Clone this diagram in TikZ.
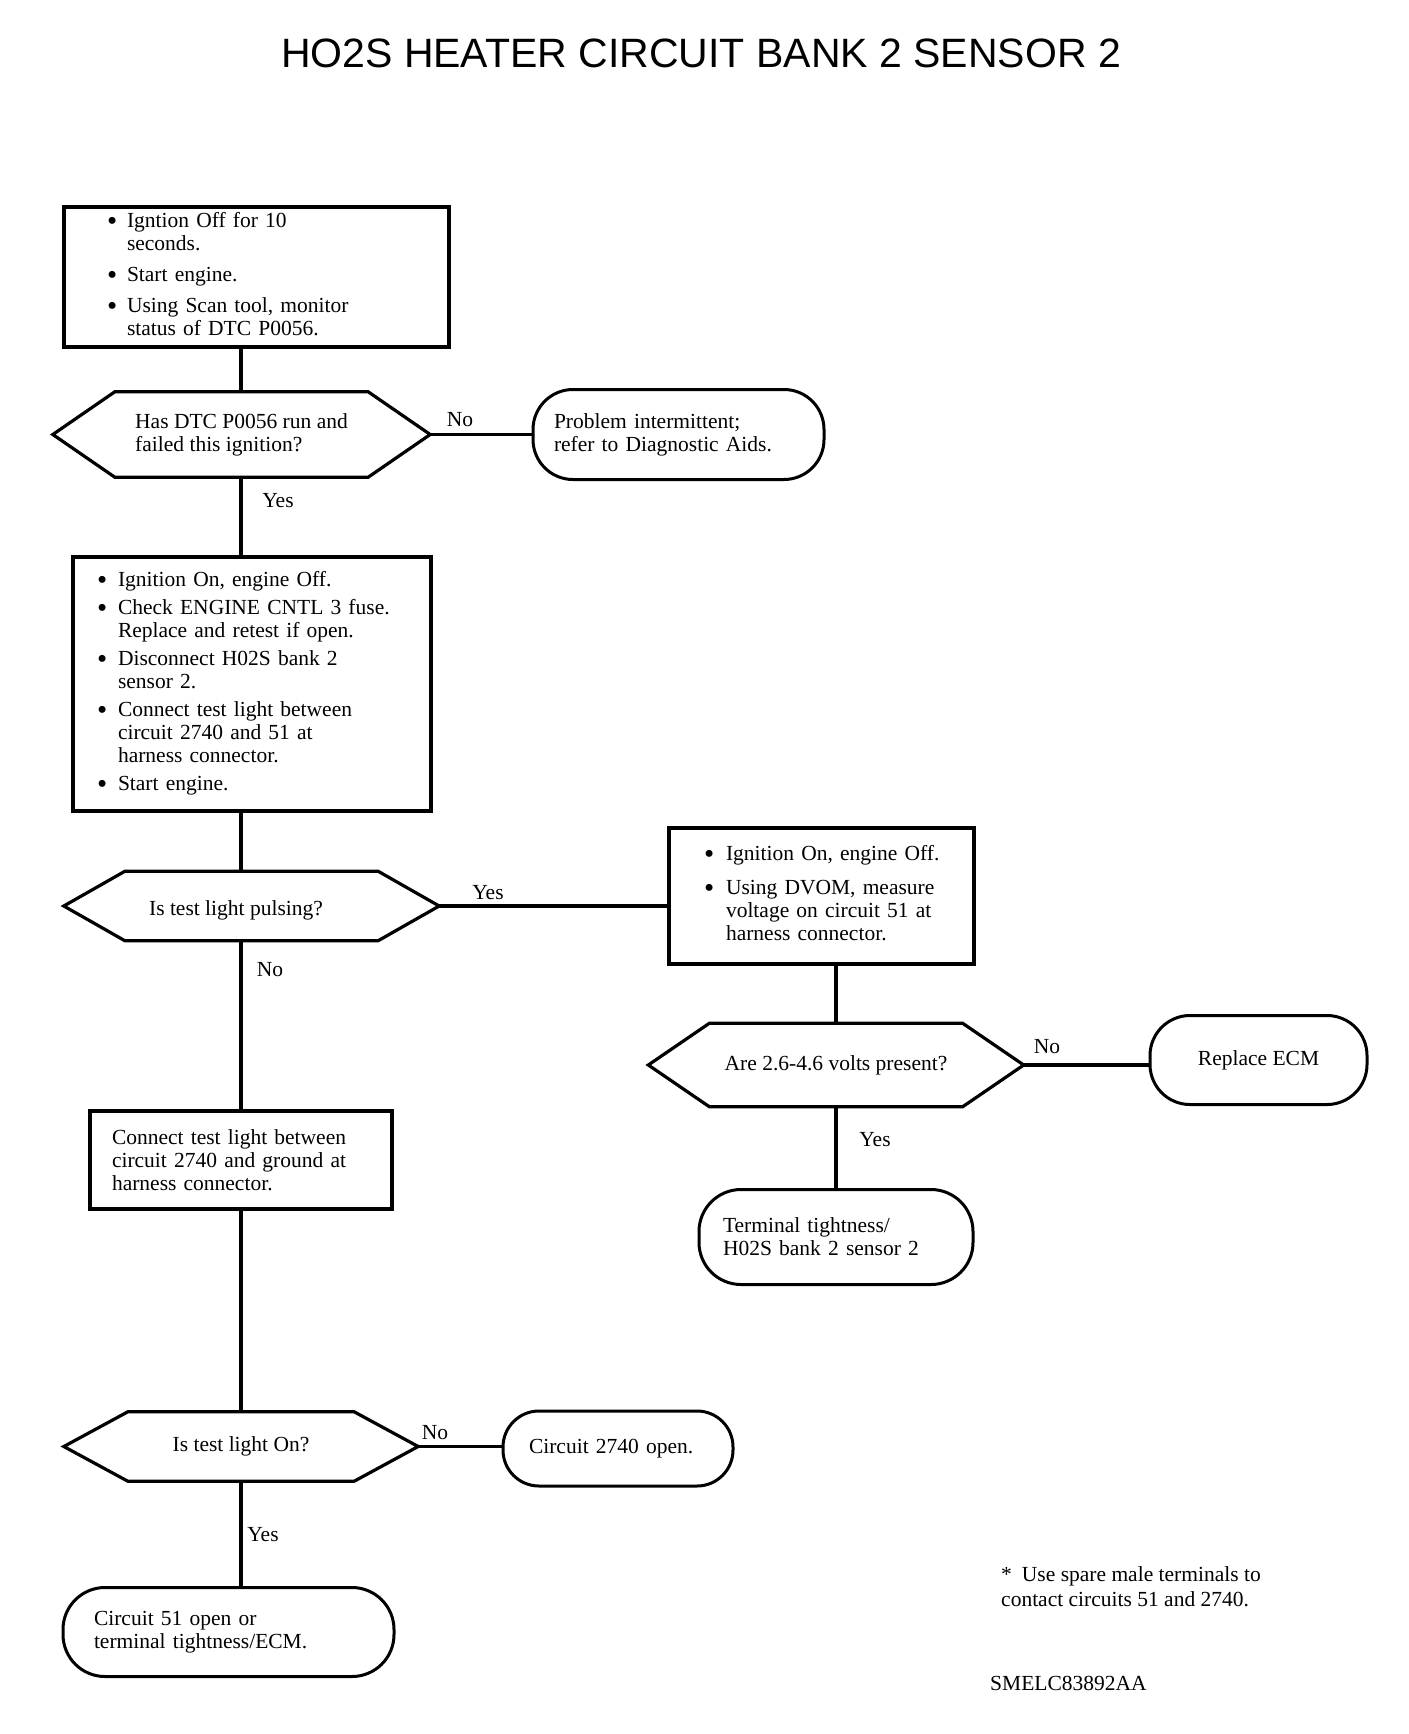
\documentclass[tikz,border=0pt]{standalone}
\usepackage{fontspec}
\setmainfont{Liberation Serif}
\newfontfamily\titlefont{Liberation Sans}
\usetikzlibrary{calc}
\newcommand{\bl}{\raisebox{-2.5pt}{\scalebox{1.35}{\textbullet}}}
\newcommand{\hexout}[2]{\draw[ln] (#1.west) -- ([xshift=#2]#1.north west) -- ([xshift=-#2]#1.north east) -- (#1.east) -- ([xshift=-#2]#1.south east) -- ([xshift=#2]#1.south west) -- cycle;}
\begin{document}
\begin{tikzpicture}[x=1pt,y=-1pt, font=\fontsize{21.5}{23}\selectfont,
  ln/.style={line width=3.2pt, line join=miter},
  box/.style={draw, line width=3.2pt, rectangle, align=left, inner ysep=0pt},
  term/.style={draw, line width=3pt, rectangle, align=left, inner ysep=0pt},
  hexn/.style={rectangle, inner sep=0pt, align=left},
  lab/.style={inner sep=0pt}]
\fill[white] (0,0) rectangle (1408,1734);
\useasboundingbox (0,0) rectangle (1408,1734);
\coordinate (sp) at (241,0);

\node[lab] (title) at (701,53) {\titlefont\fontsize{41}{45}\selectfont HO2S HEATER CIRCUIT BANK 2 SENSOR 2};

% left column
\node[box, minimum width=385pt, minimum height=140pt, text width=299pt, inner xsep=43pt] (b1) at (256.5,277)
 {\begin{tabular}{@{}p{20pt}@{}l@{}}
 \bl & Igntion Off for 10\\
     & seconds.\\[8pt]
 \bl & Start engine.\\[8pt]
 \bl & Using Scan tool, monitor\\
     & status of DTC P0056.
 \end{tabular}};

\node[hexn, minimum width=377pt, minimum height=85pt] (h1) at (241.5,434.5) {Has DTC P0056 run and\\failed this ignition?};
\hexout{h1}{62pt}

\node[term, rounded corners=40pt, minimum width=291pt, minimum height=90pt, text width=249pt, inner xsep=21pt] (t1) at (678.5,434.5) {Problem intermittent;\\refer to Diagnostic Aids.};

\node[box, minimum width=358pt, minimum height=254pt, text width=310pt, inner xsep=24pt] (b2) at (252,684)
 {\begin{tabular}{@{}p{21pt}@{}l@{}}
 \bl & Ignition On, engine Off.\\[5pt]
 \bl & Check ENGINE CNTL 3 fuse.\\
     & Replace and retest if open.\\[5pt]
 \bl & Disconnect H02S bank 2\\
     & sensor 2.\\[5pt]
 \bl & Connect test light between\\
     & circuit 2740 and 51 at\\
     & harness connector.\\[5pt]
 \bl & Start engine.
 \end{tabular}};

\node[hexn, minimum width=375pt, minimum height=69pt] (h2) at (251.5,906) {};
\hexout{h2}{61pt}
\node[lab] (h2t) at (236,910) {Is test light pulsing?};

\node[box, minimum width=305pt, minimum height=136pt, text width=235pt, inner xsep=35pt] (b3) at (821.5,896)
 {\begin{tabular}{@{}p{22pt}@{}l@{}}
 \bl & Ignition On, engine Off.\\[11pt]
 \bl & Using DVOM, measure\\
     & voltage on circuit 51 at\\
     & harness connector.
 \end{tabular}};

\node[box, minimum width=302pt, minimum height=98pt, text width=258pt, inner xsep=22pt] (b4) at (241,1160) {Connect test light between\\circuit 2740 and ground at\\harness connector.};

\node[hexn, minimum width=375pt, minimum height=83pt] (h3) at (836,1065) {Are 2.6-4.6 volts present?};
\hexout{h3}{61pt}

\node[term, rounded corners=40pt, minimum width=217pt, minimum height=89pt] (t5) at (1258.5,1060) {Replace ECM};

\node[term, rounded corners=42pt, minimum width=274pt, minimum height=95pt, text width=226pt, inner xsep=24pt] (t2) at (836,1237) {Terminal tightness/\\H02S bank 2 sensor 2};

\node[hexn, minimum width=354pt, minimum height=69pt] (h4) at (241,1446.5) {Is test light On?};
\hexout{h4}{64pt}

\node[term, rounded corners=36pt, minimum width=230pt, minimum height=75pt, text width=178pt, inner xsep=26pt] (t3) at (618,1448.5) {Circuit 2740 open.};

\node[term, rounded corners=42pt, minimum width=331pt, minimum height=89pt, text width=269pt, inner xsep=31pt] (t4) at (228.5,1632) {Circuit 51 open or\\terminal tightness/ECM.};

% connectors
\draw[ln] (b1.south -| sp) -- (h1.north -| sp);
\draw[ln] (h1.east) -- (h1.east -| t1.west);
\draw[ln] (h1.south -| sp) -- (b2.north -| sp);
\draw[ln] (b2.south -| sp) -- (h2.north -| sp);
\draw[ln] (h2.east) -- (h2.east -| b3.west);
\draw[ln] (h2.south -| sp) -- (b4.north -| sp);
\draw[ln] (h3.north) -- (h3.north |- b3.south);
\draw[ln] (h3.east) -- (h3.east -| t5.west);
\draw[ln] (h3.south) -- (h3.south |- t2.north);
\draw[ln] (b4.south -| sp) -- (h4.north -| sp);
\draw[ln] (h4.east) -- (h4.east -| t3.west);
\draw[ln] (h4.south -| sp) -- (t4.north -| sp);

% labels
\node[lab] (l1) at (460,420) {No};
\node[lab] (l2) at (278,501) {Yes};
\node[lab] (l3) at (488,893) {Yes};
\node[lab] (l4) at (270,970) {No};
\node[lab] (l5) at (1047,1047) {No};
\node[lab] (l6) at (875,1140) {Yes};
\node[lab] (l7) at (435,1433) {No};
\node[lab] (l8) at (263,1535) {Yes};

\node[lab, anchor=west, align=left, font=\fontsize{21.5}{25}\selectfont] (fn) at (1001,1587) {*\hspace{10pt}Use spare male terminals to\\contact circuits 51 and 2740.};
\node[lab, anchor=west] (code) at (990,1683) {SMELC83892AA};
\end{tikzpicture}
\end{document}
